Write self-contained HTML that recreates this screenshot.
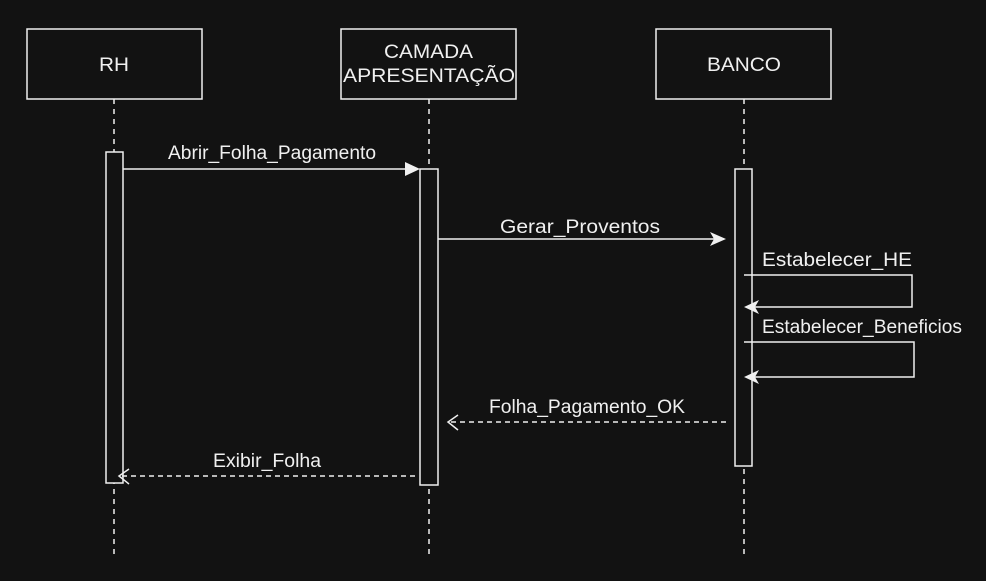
<!DOCTYPE html>
<html><head><meta charset="utf-8"><style>
html,body{margin:0;padding:0;background:#121212;}
svg{display:block}
text{font-family:"Liberation Sans",sans-serif;fill:#f0f0f0;font-size:19px}
</style></head><body>
<svg width="986" height="581" viewBox="0 0 986 581">
<rect width="986" height="581" fill="#121212"/>
<g stroke="#f0f0f0" stroke-width="1.5" fill="none">
 <line x1="114" y1="99" x2="114" y2="555" stroke-dasharray="5,5"/>
 <line x1="429" y1="99" x2="429" y2="555" stroke-dasharray="5,5"/>
 <line x1="744" y1="99" x2="744" y2="555" stroke-dasharray="5,5"/>
 <rect x="27" y="29" width="175" height="70" fill="#121212"/>
 <rect x="341" y="29" width="175" height="70" fill="#121212"/>
 <rect x="656" y="29" width="175" height="70" fill="#121212"/>
 <rect x="106" y="152" width="17" height="331" fill="#121212"/>
 <rect x="420" y="169" width="18" height="316" fill="#121212"/>
 <rect x="735" y="169" width="17" height="297" fill="#121212"/>
 <line x1="123" y1="169" x2="408" y2="169"/>
 <line x1="438" y1="239" x2="724" y2="239"/>
 <polyline points="744,275 912,275 912,307 752,307"/>
 <polyline points="744,342 914,342 914,377 752,377"/>
 <line x1="726" y1="422" x2="450" y2="422" stroke-dasharray="5,4"/>
 <line x1="415" y1="476" x2="122" y2="476" stroke-dasharray="5,4"/>
 <polyline points="458,415 448,422 458,430"/>
 <polyline points="129,469 119,476 129,484"/>
</g>
<g fill="#f0f0f0" stroke="none">
 <polygon points="420,169 405,162 405,176"/>
 <polygon points="726,239 710,232 714,239 710,246"/>
 <polygon points="744,307 759,300 755,307 759,314"/>
 <polygon points="744,377 759,370 755,377 759,384"/>
</g>
<text x="99" y="71" textLength="30" lengthAdjust="spacingAndGlyphs">RH</text>
<text x="384" y="58" textLength="89" lengthAdjust="spacingAndGlyphs">CAMADA</text>
<text x="343" y="82" textLength="172" lengthAdjust="spacingAndGlyphs">APRESENTAÇÃO</text>
<text x="707" y="71" textLength="74" lengthAdjust="spacingAndGlyphs">BANCO</text>
<text x="168" y="159" textLength="208" lengthAdjust="spacingAndGlyphs">Abrir_Folha_Pagamento</text>
<text x="500" y="233" textLength="160" lengthAdjust="spacingAndGlyphs">Gerar_Proventos</text>
<text x="762" y="266" textLength="150" lengthAdjust="spacingAndGlyphs">Estabelecer_HE</text>
<text x="762" y="333" textLength="200" lengthAdjust="spacingAndGlyphs">Estabelecer_Beneficios</text>
<text x="489" y="413" textLength="196" lengthAdjust="spacingAndGlyphs">Folha_Pagamento_OK</text>
<text x="213" y="467" textLength="108" lengthAdjust="spacingAndGlyphs">Exibir_Folha</text>
</svg>
</body></html>
